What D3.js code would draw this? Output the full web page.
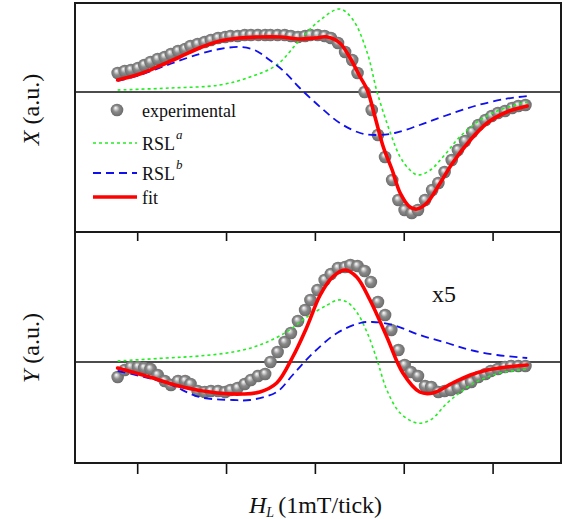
<!DOCTYPE html>
<html>
<head>
<meta charset="utf-8">
<script src="https://cdn.jsdelivr.net/npm/d3@7"></script>
<style>
  body { margin: 0; background: #fff; }
  svg { display: block; }
  text { font-family: "Liberation Serif", "Times New Roman", serif; }
</style>
</head>
<body>
<svg id="chart" width="566" height="519"></svg>
<script>
// field axis, 1 unit = 1 tick (1 mT)
const xTicks = [-2, -1, 0, 1, 2];

// upper panel: X (a.u.)
const xExp = [
  [-2.22, 0.19], [-2.14, 0.21], [-2.07, 0.22], [-1.99, 0.24], [-1.92, 0.27], [-1.85, 0.30],
  [-1.77, 0.33], [-1.69, 0.35], [-1.62, 0.38], [-1.54, 0.41], [-1.46, 0.43], [-1.40, 0.46],
  [-1.32, 0.48], [-1.24, 0.50], [-1.17, 0.52], [-1.09, 0.54], [-1.01, 0.55], [-0.95, 0.56],
  [-0.87, 0.56], [-0.79, 0.57], [-0.72, 0.57], [-0.64, 0.57], [-0.56, 0.57], [-0.50, 0.57],
  [-0.42, 0.57], [-0.34, 0.57], [-0.27, 0.56], [-0.19, 0.55], [-0.11, 0.56], [-0.05, 0.57],
  [0.03, 0.57], [0.11, 0.56], [0.18, 0.54], [0.26, 0.49], [0.34, 0.40], [0.42, 0.32],
  [0.48, 0.19], [0.56, 0.00], [0.64, -0.18], [0.71, -0.43], [0.79, -0.65], [0.87, -0.88],
  [0.94, -1.08], [1.01, -1.18], [1.09, -1.21], [1.16, -1.18], [1.24, -1.08], [1.32, -0.98],
  [1.39, -0.91], [1.46, -0.80], [1.54, -0.68], [1.61, -0.58], [1.69, -0.49], [1.77, -0.40],
  [1.84, -0.33], [1.92, -0.28], [1.99, -0.24], [2.06, -0.21], [2.14, -0.19], [2.22, -0.16],
  [2.29, -0.14], [2.37, -0.13]
];
const xRslA = [
  [-2.22, 0.02], [-1.63, 0.04], [-1.07, 0.07], [-0.73, 0.15], [-0.43, 0.27], [-0.17, 0.52],
  [0.06, 0.72], [0.28, 0.83], [0.43, 0.72], [0.59, 0.39], [0.70, 0.00], [0.85, -0.41],
  [0.96, -0.65], [1.07, -0.78], [1.16, -0.83], [1.30, -0.78], [1.46, -0.63], [1.63, -0.45],
  [1.86, -0.28], [2.08, -0.18], [2.39, -0.10]
];
const xRslB = [
  [-2.22, 0.11], [-1.97, 0.17], [-1.63, 0.28], [-1.30, 0.38], [-1.07, 0.43], [-0.85, 0.45],
  [-0.68, 0.42], [-0.51, 0.32], [-0.34, 0.20], [-0.17, 0.04], [0.06, -0.15], [0.28, -0.31],
  [0.51, -0.41], [0.68, -0.43], [0.90, -0.41], [1.18, -0.33], [1.46, -0.24], [1.80, -0.14],
  [2.14, -0.07], [2.39, -0.04]
];
const xFit = [
  [-2.22, 0.12], [-1.97, 0.18], [-1.75, 0.26], [-1.52, 0.35], [-1.30, 0.44], [-1.07, 0.51],
  [-0.85, 0.54], [-0.62, 0.55], [-0.39, 0.55], [-0.17, 0.53], [0.00, 0.54], [0.14, 0.55],
  [0.28, 0.49], [0.39, 0.35], [0.51, 0.15], [0.59, 0.02], [0.68, -0.26], [0.77, -0.55],
  [0.87, -0.78], [0.96, -1.01], [1.07, -1.15], [1.15, -1.17], [1.26, -1.11], [1.41, -0.91],
  [1.55, -0.71], [1.75, -0.48], [1.94, -0.31], [2.16, -0.20], [2.39, -0.14]
];

// lower panel: Y (a.u.), shown x5
const yExp = [
  [-2.22, -0.15], [-2.14, -0.08], [-2.07, -0.05], [-1.99, -0.05], [-1.92, -0.06], [-1.85, -0.07],
  [-1.77, -0.13], [-1.69, -0.19], [-1.62, -0.23], [-1.54, -0.19], [-1.46, -0.19], [-1.40, -0.22],
  [-1.32, -0.29], [-1.24, -0.30], [-1.17, -0.29], [-1.09, -0.29], [-1.01, -0.30], [-0.95, -0.28],
  [-0.87, -0.26], [-0.79, -0.22], [-0.72, -0.18], [-0.64, -0.14], [-0.56, -0.12], [-0.50, 0.00],
  [-0.42, 0.10], [-0.34, 0.20], [-0.27, 0.29], [-0.19, 0.41], [-0.11, 0.52], [-0.05, 0.62],
  [0.03, 0.72], [0.11, 0.82], [0.18, 0.88], [0.26, 0.94], [0.34, 0.95], [0.40, 0.97],
  [0.48, 0.96], [0.56, 0.91], [0.63, 0.80], [0.71, 0.60], [0.79, 0.47], [0.86, 0.32],
  [0.94, 0.12], [1.01, -0.03], [1.08, -0.10], [1.16, -0.14], [1.24, -0.24], [1.31, -0.25],
  [1.39, -0.30], [1.46, -0.29], [1.53, -0.28], [1.61, -0.26], [1.69, -0.22], [1.76, -0.20],
  [1.84, -0.15], [1.92, -0.12], [1.98, -0.09], [2.06, -0.07], [2.14, -0.05], [2.21, -0.04],
  [2.29, -0.04], [2.37, -0.04]
];
const yRslA = [
  [-2.22, 0.01], [-1.67, 0.04], [-1.30, 0.06], [-0.92, 0.10], [-0.62, 0.17], [-0.32, 0.30],
  [-0.09, 0.45], [0.14, 0.57], [0.26, 0.62], [0.36, 0.60], [0.47, 0.50], [0.59, 0.29],
  [0.70, 0.02], [0.81, -0.28], [0.96, -0.51], [1.15, -0.61], [1.30, -0.58], [1.49, -0.41],
  [1.67, -0.28], [1.86, -0.18], [2.08, -0.11], [2.40, -0.07]
];
const yRslB = [
  [-2.22, -0.09], [-1.67, -0.21], [-1.30, -0.35], [-0.92, -0.38], [-0.73, -0.38], [-0.43, -0.30],
  [-0.25, -0.13], [-0.02, 0.09], [0.25, 0.29], [0.51, 0.39], [0.65, 0.40], [0.88, 0.37],
  [1.18, 0.27], [1.49, 0.19], [1.75, 0.12], [2.05, 0.07], [2.39, 0.04]
];
const yFit = [
  [-2.22, -0.06], [-1.86, -0.15], [-1.49, -0.25], [-1.10, -0.31], [-0.81, -0.32], [-0.62, -0.30],
  [-0.43, -0.21], [-0.25, 0.05], [-0.09, 0.35], [0.06, 0.67], [0.20, 0.85], [0.34, 0.92],
  [0.47, 0.85], [0.62, 0.62], [0.81, 0.25], [0.99, -0.11], [1.18, -0.30], [1.33, -0.31],
  [1.55, -0.21], [1.75, -0.13], [1.94, -0.08], [2.16, -0.05], [2.39, -0.03]
];

const legendItems = [
  { key: 'exp', label: 'experimental', sup: null },
  { key: 'a', label: 'RSL', sup: 'a' },
  { key: 'b', label: 'RSL', sup: 'b' },
  { key: 'fit', label: 'fit', sup: null }
];

const svg = d3.select('#chart');
const margin = { left: 75, right: 5 };
const W = 566;
const serif = '"Liberation Serif", "Times New Roman", serif';

const x = d3.scaleLinear().domain([-2.70, 2.77]).range([margin.left, W - margin.right]);
const yTop = d3.scaleLinear().domain([-1.40, 0.89]).range([232, 3]);
const yBot = d3.scaleLinear().domain([-1.01, 1.30]).range([463, 232]);

// sphere marker gradient
const defs = svg.append('defs');
const grad = defs.append('radialGradient').attr('id', 'ball')
  .attr('cx', '50%').attr('cy', '50%').attr('r', '55%')
  .attr('fx', '38%').attr('fy', '32%');
grad.append('stop').attr('offset', '0%').attr('stop-color', '#ffffff');
grad.append('stop').attr('offset', '20%').attr('stop-color', '#d0d0d0');
grad.append('stop').attr('offset', '48%').attr('stop-color', '#8a8a8a');
grad.append('stop').attr('offset', '100%').attr('stop-color', '#666666');

const styles = {
  a: { stroke: '#22ee22', width: 1.6, dash: '3,3' },
  b: { stroke: '#1010ee', width: 1.8, dash: '8,5' },
  fit: { stroke: '#ff0000', width: 3.6, dash: null }
};

function drawPanel(g, y, exp, rslA, rslB, fit) {
  const line = d3.line()
    .x(d => x(d[0]))
    .y(d => y(d[1]))
    .curve(d3.curveCatmullRom.alpha(0.5));

  // zero line
  g.append('line')
    .attr('x1', x.range()[0]).attr('x2', x.range()[1])
    .attr('y1', y(0)).attr('y2', y(0))
    .attr('stroke', '#111').attr('stroke-width', 1.6);

  g.append('g').selectAll('circle')
    .data(exp)
    .join('circle')
    .attr('cx', d => x(d[0]))
    .attr('cy', d => y(d[1]))
    .attr('r', 6.3)
    .attr('fill', 'url(#ball)');

  [['a', rslA], ['b', rslB], ['fit', fit]].forEach(([k, data]) => {
    const s = styles[k];
    g.append('path')
      .datum(data)
      .attr('d', line)
      .attr('fill', 'none')
      .attr('stroke', s.stroke)
      .attr('stroke-width', s.width)
      .attr('stroke-dasharray', s.dash)
      .attr('stroke-linecap', k === 'fit' ? 'round' : 'butt');
  });
}

drawPanel(svg.append('g'), yTop, xExp, xRslA, xRslB, xFit);
drawPanel(svg.append('g'), yBot, yExp, yRslA, yRslB, yFit);

// ticks: between panels (inward) and at the bottom (outward)
const tickAxis = size => d3.axisBottom(x).tickValues(xTicks).tickSize(size).tickFormat('');
svg.append('g').attr('transform', 'translate(0,232)')
  .call(tickAxis(9))
  .call(g => g.select('.domain').remove())
  .call(g => g.selectAll('line').attr('stroke', '#111').attr('stroke-width', 1.6));
svg.append('g').attr('transform', 'translate(0,463)')
  .call(tickAxis(11))
  .call(g => g.select('.domain').remove())
  .call(g => g.selectAll('line').attr('stroke', '#111').attr('stroke-width', 1.6));

// frames
[yTop, yBot].forEach(y => {
  svg.append('rect')
    .attr('x', x.range()[0]).attr('y', y.range()[1])
    .attr('width', x.range()[1] - x.range()[0])
    .attr('height', y.range()[0] - y.range()[1])
    .attr('fill', 'none').attr('stroke', '#1a1a1a').attr('stroke-width', 2);
});

// legend
const legendY = { exp: 110, a: 143, b: 173, fit: 197 };
const leg = svg.append('g');
legendItems.forEach(item => {
  const cy = legendY[item.key];
  if (item.key === 'exp') {
    leg.append('circle').attr('cx', 117).attr('cy', cy).attr('r', 6.3).attr('fill', 'url(#ball)');
  } else {
    const s = styles[item.key];
    leg.append('line')
      .attr('x1', 93).attr('x2', 137).attr('y1', cy).attr('y2', cy)
      .attr('stroke', s.stroke).attr('stroke-width', s.width)
      .attr('stroke-dasharray', s.dash);
  }
  const t = leg.append('text').attr('x', 142).attr('y', cy + 7)
    .attr('font-family', serif).attr('font-size', 18).attr('fill', '#111')
    .text(item.label);
  if (item.sup) {
    t.append('tspan').attr('font-style', 'italic').attr('font-size', 13)
      .attr('dy', -11).attr('dx', 1).text(item.sup);
  }
});

// x5 note
svg.append('text')
  .attr('x', 432).attr('y', 302)
  .attr('font-family', '"Liberation Sans", Arial, sans-serif')
  .attr('font-size', 24).attr('fill', '#111')
  .text('x5');

// axis titles
const yTitle = (cy, letter) => {
  const t = svg.append('text')
    .attr('transform', `translate(38.5,${cy}) rotate(-90)`)
    .attr('text-anchor', 'middle')
    .attr('font-family', serif)
    .attr('font-size', 24).attr('fill', '#111');
  t.append('tspan').attr('font-style', 'italic').text(letter);
  t.append('tspan').text(' (a.u.)');
};
yTitle(109.5, 'X');
yTitle(348, 'Y');

const xt = svg.append('text')
  .attr('x', 249).attr('y', 513)
  .attr('font-family', serif)
  .attr('font-size', 24).attr('fill', '#111');
xt.append('tspan').attr('font-style', 'italic').text('H');
xt.append('tspan').attr('font-style', 'italic').attr('font-size', 14).attr('dy', 4).text('L');
xt.append('tspan').attr('dy', -4).attr('dx', 4).text('(1mT/tick)');
</script>
</body>
</html>
